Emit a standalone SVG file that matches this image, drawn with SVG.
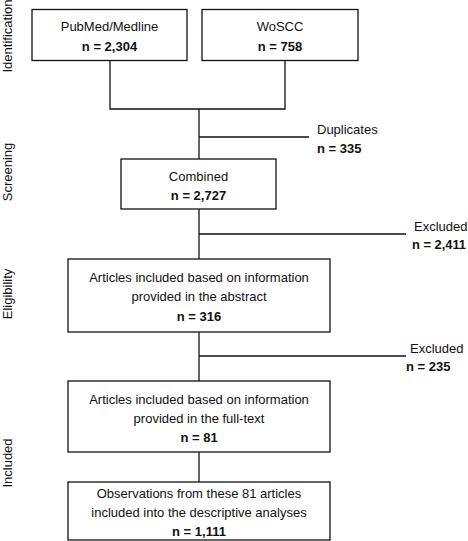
<svg xmlns="http://www.w3.org/2000/svg" width="468" height="541" viewBox="0 0 468 541">
<style>
  text { font-family: "Liberation Sans", Arial, sans-serif; font-size: 13px; fill: #111; }
  .c { text-anchor: middle; }
  .b { font-weight: bold; }
  .box { fill: #fff; stroke: #111; stroke-width: 1.3; }
  .ln { fill: none; stroke: #111; stroke-width: 1.3; }
</style>
<rect width="468" height="541" fill="#fff"/>
<g id="stages">
  <text transform="translate(12,36) rotate(-90)" class="c">Identification</text>
  <text transform="translate(12,172) rotate(-90)" class="c">Screening</text>
  <text transform="translate(12,294) rotate(-90)" class="c">Eligibility</text>
  <text transform="translate(12,463) rotate(-90)" class="c">Included</text>
</g>
<g id="connectors">
  <polyline class="ln" points="110,61 110,109 285,109 285,61"/>
  <line class="ln" x1="199" y1="109" x2="199" y2="159"/>
  <line class="ln" x1="199" y1="137" x2="309" y2="137"/>
  <line class="ln" x1="199" y1="209" x2="199" y2="259"/>
  <line class="ln" x1="199" y1="234" x2="406" y2="234"/>
  <line class="ln" x1="199" y1="332" x2="199" y2="381"/>
  <line class="ln" x1="199" y1="356" x2="406" y2="356"/>
  <line class="ln" x1="199" y1="452" x2="199" y2="482"/>
</g>
<g id="pubmed">
  <rect class="box" x="32" y="9.5" width="155" height="51"/>
  <text class="c" x="109.5" y="31">PubMed/Medline</text>
  <text class="c b" x="109.5" y="51">n = 2,304</text>
</g>
<g id="woscc">
  <rect class="box" x="202" y="9.5" width="156" height="51"/>
  <text class="c" x="280" y="31">WoSCC</text>
  <text class="c b" x="280" y="51">n = 758</text>
</g>
<g id="duplicates">
  <text x="317" y="134">Duplicates</text>
  <text class="b" x="317" y="153">n = 335</text>
</g>
<g id="combined">
  <rect class="box" x="121" y="159" width="155" height="50"/>
  <text class="c" x="198.5" y="181">Combined</text>
  <text class="c b" x="198.5" y="200">n = 2,727</text>
</g>
<g id="excluded1">
  <text x="414" y="231">Excluded</text>
  <text class="b" x="412" y="249" textLength="54" lengthAdjust="spacingAndGlyphs">n = 2,411</text>
</g>
<g id="abstract">
  <rect class="box" x="68" y="259" width="262" height="73"/>
  <text class="c" x="199" y="282">Articles included based on information</text>
  <text class="c" x="199" y="301">provided in the abstract</text>
  <text class="c b" x="199" y="321">n = 316</text>
</g>
<g id="excluded2">
  <text x="410" y="353">Excluded</text>
  <text class="b" x="406" y="371">n = 235</text>
</g>
<g id="fulltext">
  <rect class="box" x="68" y="381" width="262" height="71"/>
  <text class="c" x="199" y="404">Articles included based on information</text>
  <text class="c" x="199" y="423">provided in the full-text</text>
  <text class="c b" x="199" y="442">n = 81</text>
</g>
<g id="observations">
  <rect class="box" x="68" y="482" width="262" height="58"/>
  <text class="c" x="199" y="498">Observations from these 81 articles</text>
  <text class="c" x="199" y="517">included into the descriptive analyses</text>
  <text class="c b" x="199" y="536">n = 1,111</text>
</g>
</svg>
